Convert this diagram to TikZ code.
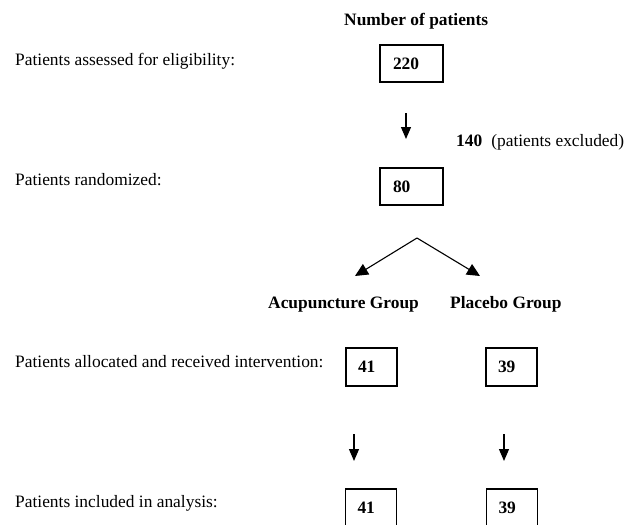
\documentclass[tikz,border=0pt]{standalone}
\usepackage{fontspec}
\setmainfont{Liberation Serif}
\usetikzlibrary{arrows.meta}
\begin{document}
\begin{tikzpicture}[x=1pt,y=-1pt,
  every node/.style={font=\fontsize{17.4}{20}\selectfont},
  lbl/.style={anchor=base west,inner sep=0pt},
  bigbox/.style={draw,line width=1.3pt,minimum height=37pt,text width=37pt,inner xsep=13pt,align=left,font=\fontsize{17.4}{20}\selectfont\bfseries},
  smallbox/.style={draw,line width=1.3pt,minimum height=38pt,text width=27pt,inner xsep=12pt,align=left,font=\fontsize{17.4}{20}\selectfont\bfseries},
  downarrow/.style={line width=1.2pt,-{Triangle[width=10pt,length=12pt]}},
  splitarrow/.style={line width=1.1pt,-{Triangle[width=12pt,length=13pt]}}]
\useasboundingbox (0,0) rectangle (635,525);
\clip (0,0) rectangle (635,525);
\node[lbl,font=\fontsize{17.4}{20}\selectfont\bfseries] (hdr) at (344,25) {Number of patients};
\node[lbl] (t1) at (15,65) {Patients assessed for eligibility:};
\node[lbl] (t2) at (15,185) {Patients randomized:};
\node[lbl] (t3) at (15,367) {Patients allocated and received intervention:};
\node[lbl] (t4) at (15,507) {Patients included in analysis:};
\node[lbl] (excl) at (456,146) {\textbf{140}\hspace{9pt}(patients excluded)};
\node[lbl,font=\fontsize{17.4}{20}\selectfont\bfseries] (acu) at (268,308) {Acupuncture Group};
\node[lbl,font=\fontsize{17.4}{20}\selectfont\bfseries] (pla) at (450,308) {Placebo Group};
\node[bigbox] (b220) at (411.5,63.5) {220};
\node[bigbox] (b80) at (411.5,186.5) {80};
\node[smallbox] (b41) at (371.5,367) {41};
\node[smallbox] (b39) at (511.5,367) {39};
\node[smallbox] (c41) at (371,508) {41};
\node[smallbox] (c39) at (512,508) {39};
\coordinate (a1s) at (406,113);
\coordinate (a1e) at (406,139);
\coordinate (apex) at (417,238);
\coordinate (ltip) at (355,276);
\coordinate (rtip) at (480,276);
\coordinate (a2s) at (354,434);
\coordinate (a2e) at (354,461);
\coordinate (a3s) at (504,434);
\coordinate (a3e) at (504,461);
\draw[downarrow] (a1s) -- (a1e);
\draw[splitarrow] (apex) -- (ltip);
\draw[splitarrow] (apex) -- (rtip);
\draw[downarrow] (a2s) -- (a2e);
\draw[downarrow] (a3s) -- (a3e);
\end{tikzpicture}
\end{document}
